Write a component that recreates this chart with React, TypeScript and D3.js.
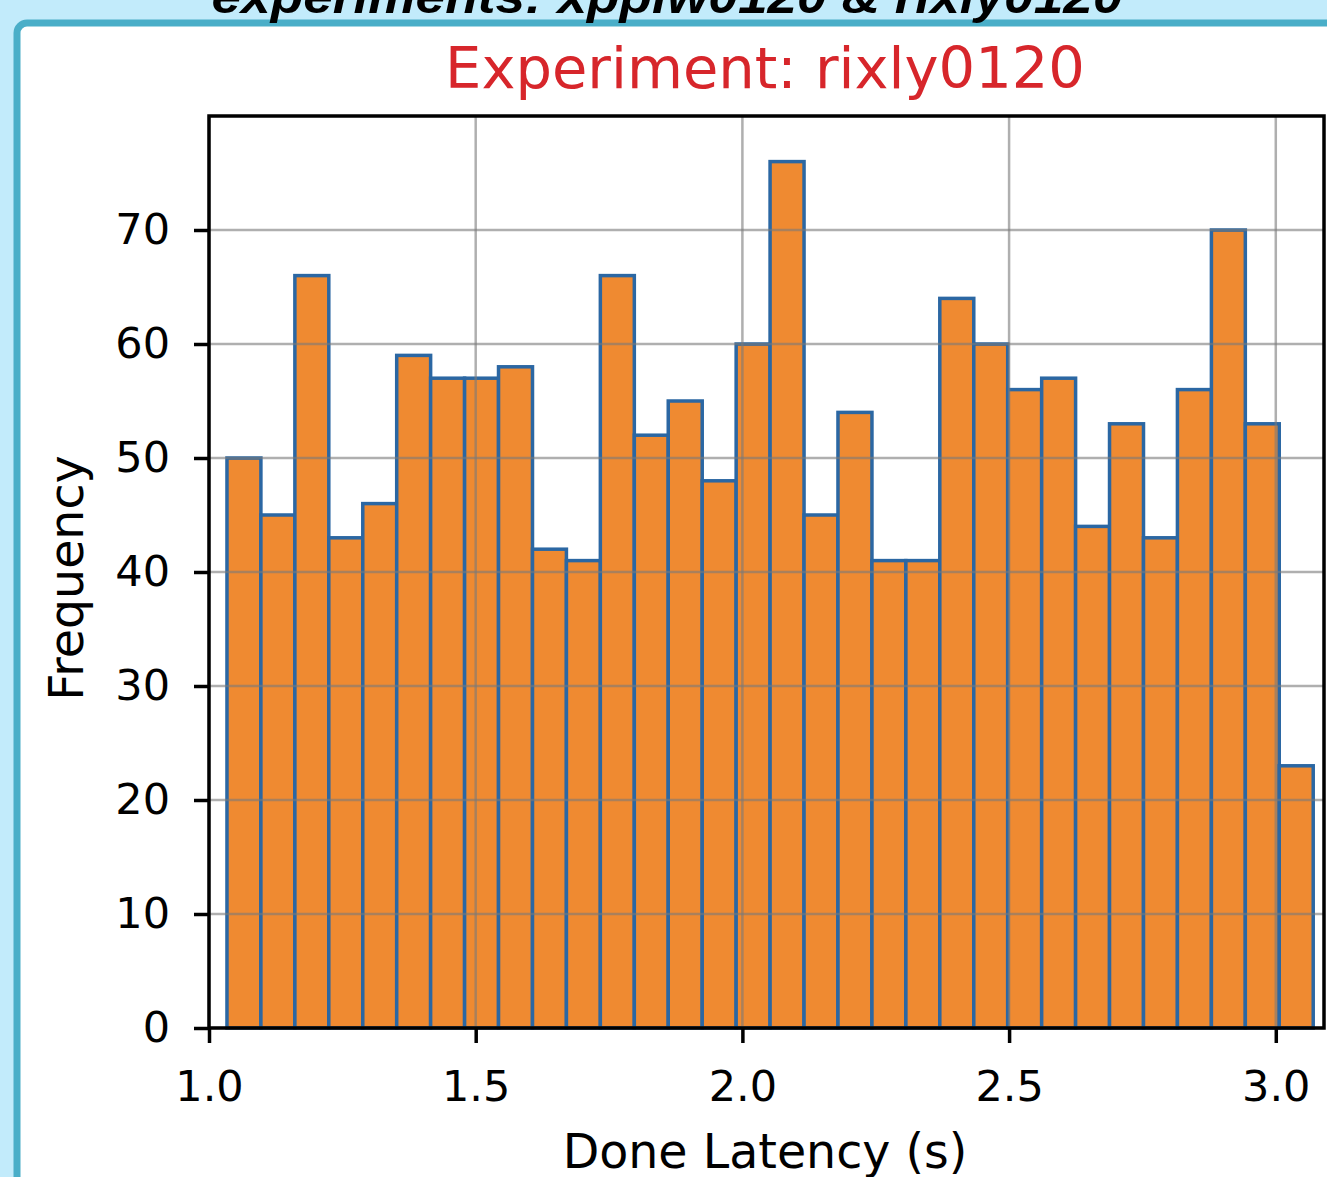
import * as d3 from "d3";
import { useEffect, useRef } from "react";

// histogram bin edges (s)
const binEdges = [
  1.0337, 1.0973, 1.161, 1.2246, 1.2883, 1.3519, 1.4155, 1.4792, 1.5428, 1.6065,
  1.6701, 1.7337, 1.7974, 1.861, 1.9247, 1.9883, 2.0519, 2.1156, 2.1792, 2.2429,
  2.3065, 2.3701, 2.4338, 2.4974, 2.5611, 2.6247, 2.6883, 2.752, 2.8156, 2.8793,
  2.9429, 3.0065, 3.0702,
];
const counts = [
  50, 45, 66, 43, 46, 59, 57, 57, 58, 42, 41, 66, 52, 55, 48, 60, 76, 45, 54, 41,
  41, 64, 60, 56, 57, 44, 53, 43, 56, 70, 53, 23,
];
const xTicks = [1.0, 1.5, 2.0, 2.5, 3.0];
const yTicks = [0, 10, 20, 30, 40, 50, 60, 70];
const xDomain = [1.0, 3.0904];
const yDomain = [0, 80];

const pageTitle = "experiments: xppiw0120 & rixly0120";
const chartTitle = "Experiment: rixly0120";
const xLabel = "Done Latency (s)";
const yLabel = "Frequency";

export default function App() {
  const ref = useRef(null);

  useEffect(() => {
    const svg = d3.select(ref.current);
    svg.selectAll("*").remove();

    const width = 1327;
    const height = 1177;
    const plot = { left: 209, right: 1324, top: 116, bottom: 1028 };
    const font = "'DejaVu Sans', sans-serif";

    svg.attr("width", width).attr("height", height);

    // page background + panel
    svg.append("rect").attr("width", width).attr("height", height).attr("fill", "#c2ebfb");
    svg.append("rect")
      .attr("x", 17).attr("y", 23)
      .attr("width", width + 40).attr("height", height + 40)
      .attr("rx", 10)
      .attr("fill", "#fff")
      .attr("stroke", "#4aaec8")
      .attr("stroke-width", 7);

    // cut-off page heading
    svg.append("text")
      .attr("x", 667).attr("y", 13)
      .attr("text-anchor", "middle")
      .attr("textLength", 911)
      .attr("lengthAdjust", "spacingAndGlyphs")
      .style("font-family", "'Liberation Sans', Arial, sans-serif")
      .style("font-weight", "bold")
      .style("font-style", "italic")
      .style("font-size", "48px")
      .attr("fill", "#000")
      .text(pageTitle);

    // scales
    const x = d3.scaleLinear().domain(xDomain).range([plot.left, plot.right]);
    const y = d3.scaleLinear().domain(yDomain).range([plot.bottom, plot.top]);

    const g = svg.append("g");

    // bars
    g.selectAll("rect.bar")
      .data(counts)
      .enter()
      .append("rect")
      .attr("class", "bar")
      .attr("x", (d, i) => x(binEdges[i]))
      .attr("width", (d, i) => x(binEdges[i + 1]) - x(binEdges[i]))
      .attr("y", d => y(d))
      .attr("height", d => y(0) - y(d))
      .attr("fill", "#ef8a31")
      .attr("stroke", "#2b67a3")
      .attr("stroke-width", 3.5);

    // grid on top of bars
    const grid = g.append("g").attr("stroke", "#7a7a7a").attr("stroke-opacity", 0.6).attr("stroke-width", 2.5);
    grid.selectAll("line.gx")
      .data(xTicks)
      .enter()
      .append("line")
      .attr("x1", d => x(d)).attr("x2", d => x(d))
      .attr("y1", plot.top).attr("y2", plot.bottom);
    grid.selectAll("line.gy")
      .data(yTicks)
      .enter()
      .append("line")
      .attr("x1", plot.left).attr("x2", plot.right)
      .attr("y1", d => y(d)).attr("y2", d => y(d));

    // axes
    const xAxis = svg.append("g")
      .attr("transform", `translate(0,${plot.bottom})`)
      .call(d3.axisBottom(x).tickValues(xTicks).tickFormat(d3.format(".1f")).tickSize(15).tickPadding(27));
    const yAxis = svg.append("g")
      .attr("transform", `translate(${plot.left},0)`)
      .call(d3.axisLeft(y).tickValues(yTicks).tickSize(15).tickPadding(24));

    [xAxis, yAxis].forEach(a => {
      a.select(".domain").remove();
      a.selectAll("line").attr("stroke", "#000").attr("stroke-width", 3.5);
      a.selectAll("text")
        .attr("fill", "#000")
        .style("font-family", font)
        .style("font-size", "43px");
    });

    // frame
    svg.append("rect")
      .attr("x", plot.left).attr("y", plot.top)
      .attr("width", plot.right - plot.left)
      .attr("height", plot.bottom - plot.top)
      .attr("fill", "none")
      .attr("stroke", "#000")
      .attr("stroke-width", 3.5);

    // titles + labels
    svg.append("text")
      .attr("x", 765).attr("y", 88)
      .attr("text-anchor", "middle")
      .style("font-family", font)
      .style("font-size", "57.5px")
      .attr("fill", "#d7262b")
      .text(chartTitle);

    svg.append("text")
      .attr("x", 765).attr("y", 1168)
      .attr("text-anchor", "middle")
      .style("font-family", font)
      .style("font-size", "47.5px")
      .attr("fill", "#000")
      .text(xLabel);

    svg.append("text")
      .attr("transform", "rotate(-90)")
      .attr("x", -578).attr("y", 83)
      .attr("text-anchor", "middle")
      .style("font-family", font)
      .style("font-size", "47.5px")
      .attr("fill", "#000")
      .text(yLabel);
  }, []);

  return (
    <div style={{ position: "absolute", left: 0, top: 0 }}>
      <svg ref={ref} style={{ display: "block" }} />
    </div>
  );
}
